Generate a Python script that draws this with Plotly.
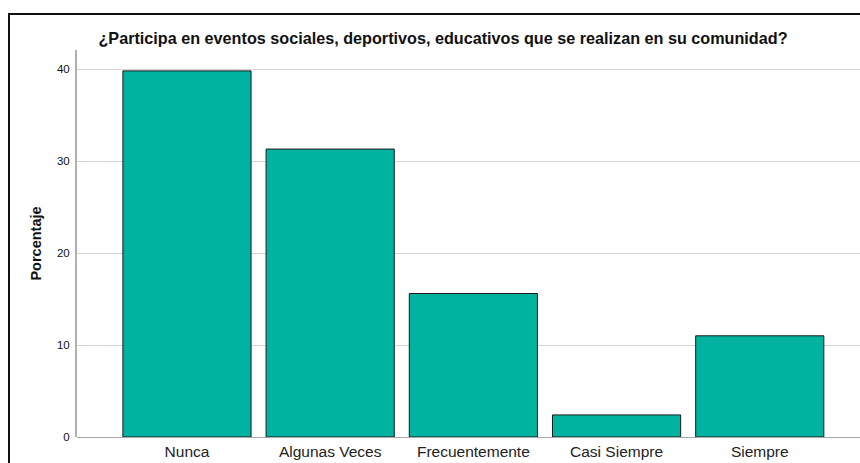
import plotly.graph_objects as go

categories = ["Nunca", "Algunas Veces", "Frecuentemente", "Casi Siempre", "Siempre"]
values = [39.8, 31.3, 15.6, 2.4, 11.0]
y_ticks = [0, 10, 20, 30, 40]

title = "¿Participa en eventos sociales, deportivos, educativos que se realizan en su comunidad?"

W, H = 860, 463
L, R, T, B = 77, 0, 50, 26
pw, ph = W - L - R, H - T - B

fig = go.Figure(go.Bar(
    x=list(range(len(categories))), y=values,
    marker=dict(color="#00B3A0", line=dict(color="#1a1a1a", width=1)),
    width=0.895,
))

fig.update_layout(
    width=W, height=H,
    margin=dict(l=L, r=R, t=T, b=B),
    paper_bgcolor="white", plot_bgcolor="white",
    font=dict(family="Liberation Sans, Arial, sans-serif", color="#000"),
    showlegend=False,
    title=dict(text="<b>" + title + "</b>", x=443 / W, xanchor="center",
               y=1 - 38 / H, yanchor="middle", font=dict(size=16.2, color="#111")),
    xaxis=dict(range=[-0.768, 4.70], tickmode="array",
               tickvals=list(range(len(categories))), ticktext=categories,
               showgrid=False, zeroline=False, showline=False,
               ticks="", ticklabelstandoff=3, tickfont=dict(size=15.5, color="#222")),
    yaxis=dict(range=[0, 42.07], tickmode="array", tickvals=y_ticks,
               showgrid=True, gridcolor="#d4d4d4", gridwidth=1,
               zeroline=True, zerolinecolor="#a8a8a8", zerolinewidth=1,
               showline=True, linecolor="#b0b0b0", linewidth=2,
               ticks="", ticklabelstandoff=3,
               tickfont=dict(size=11.5, color="#111"),
               title=dict(text="<b>Porcentaje</b>", font=dict(size=14.5, color="#111"), standoff=12)),
)

fig.add_shape(type="rect", xref="paper", yref="paper",
              x0=(9 - L) / pw, x1=1.2, y0=-0.3, y1=1 + (T - 14) / ph,
              line=dict(color="#111", width=2), fillcolor="rgba(0,0,0,0)", layer="above")

fig.write_html("out.html", config={"displayModeBar": False},
               post_script="document.body.style.margin='0';")
